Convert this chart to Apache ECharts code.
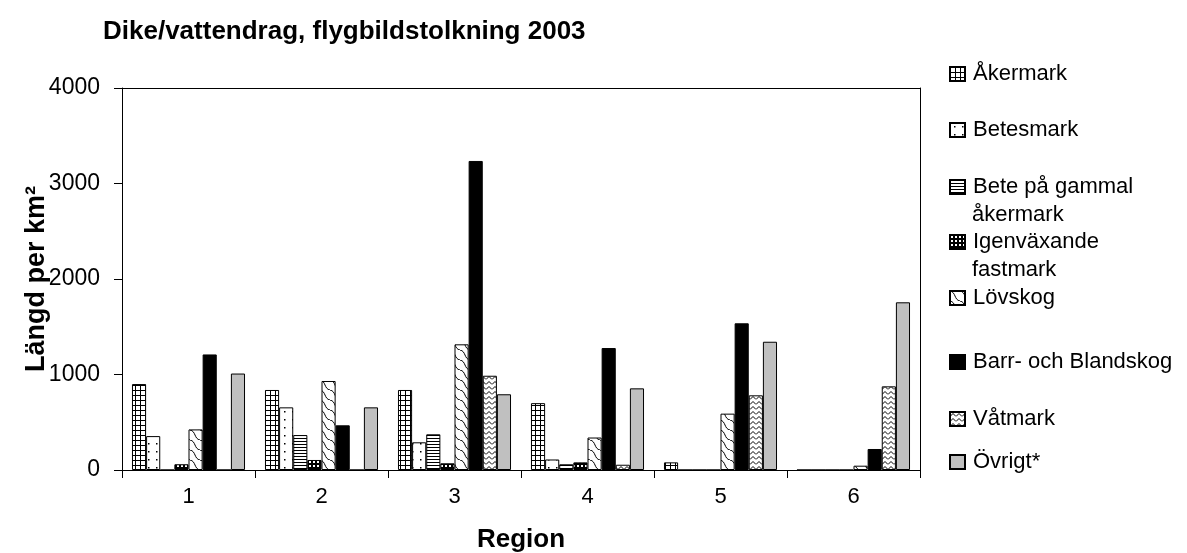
<!DOCTYPE html>
<html>
<head>
<meta charset="utf-8">
<script src="https://cdn.jsdelivr.net/npm/echarts@6/dist/echarts.min.js"></script>
<style>
  html, body { margin: 0; padding: 0; background: #fff; }
  #chart { width: 1187px; height: 553px; }
</style>
</head>
<body>
<div id="chart"></div>
<script>
// Regions on the x axis
const regions = ['1', '2', '3', '4', '5', '6'];

// Ditch / watercourse length per km² by land class
const akermark     = [900, 838, 838, 700, 80, 0];
const betesmark    = [355, 656, 290, 110, 0, 0];
const beteGammal   = [0, 366, 374, 60, 0, 0];
const igenvaxande  = [60, 105, 70, 80, 0, 0];
const lovskog      = [425, 932, 1316, 340, 590, 45];
const barrBland    = [1210, 468, 3236, 1277, 1536, 220];
const vatmark      = [0, 0, 987, 55, 782, 876];
const ovrigt       = [1010, 656, 793, 855, 1343, 1756];

const seriesNames = ['Åkermark', 'Betesmark', 'Bete på gammal', 'Igenväxande', 'Lövskog',
  'Barr- och Blandskog', 'Våtmark', 'Övrigt*'];
const secondLines = { 'Bete på gammal': 'åkermark', 'Igenväxande': 'fastmark' };
const yTicks = [0, 1000, 2000, 3000, 4000];
const yMax = yTicks[yTicks.length - 1];

const FONT = '"Liberation Sans", Arial, sans-serif';

// Small tiled canvases used as hatch fills
function tile(w, h, bg, draw) {
  const c = document.createElement('canvas');
  c.width = w; c.height = h;
  const g = c.getContext('2d');
  g.fillStyle = bg;
  g.fillRect(0, 0, w, h);
  g.fillStyle = '#000';
  g.strokeStyle = '#000';
  draw(g);
  return { image: c, repeat: 'repeat' };
}

const fills = [
  // grid
  tile(5, 5, '#fff', g => { g.fillRect(0, 0, 5, 1); g.fillRect(0, 0, 1, 5); }),
  // sparse dots
  tile(8, 8, '#fff', g => { g.fillRect(4, 3, 1.5, 1.5); }),
  // horizontal lines
  tile(3, 3, '#fff', g => { g.fillRect(0, 0, 3, 1); }),
  // dark checker
  tile(4, 4, '#000', g => { g.fillStyle = '#fff'; g.fillRect(1, 1, 2, 2); }),
  // diagonal waves
  tile(10, 10, '#fff', g => {
    g.lineWidth = 1;
    g.beginPath();
    g.moveTo(0, 0);
    g.bezierCurveTo(6, 1, 4, 9, 10, 10);
    g.stroke();
  }),
  '#000',
  // small chevrons
  tile(6, 5, '#fff', g => {
    g.lineWidth = 1;
    g.beginPath();
    g.moveTo(0, 4.5);
    g.lineTo(3, 1.5);
    g.lineTo(6, 4.5);
    g.stroke();
  }),
  '#C0C0C0'
];

const dataSets = [akermark, betesmark, beteGammal, igenvaxande, lovskog, barrBland, vatmark, ovrigt];

const series = seriesNames.map((name, i) => ({
  name: name,
  type: 'bar',
  xAxisIndex: 0,
  yAxisIndex: 0,
  data: dataSets[i],
  barGap: '0%',
  barCategoryGap: '15%',
  itemStyle: { color: fills[i], borderColor: '#000', borderWidth: 1 },
  emphasis: { disabled: true },
  silent: true
}));

// Legend rows: centre y of each entry's first line
const legendCentres = [73, 129, 186, 241, 297, 361, 418, 461];
const legends = seriesNames.map((name, i) => ({
  data: [name],
  left: 949,
  top: legendCentres[i] - 11,
  padding: 0,
  orient: 'vertical',
  itemWidth: 15,
  itemHeight: 14,
  selectedMode: false,
  icon: 'rect',
  textStyle: { fontFamily: FONT, fontSize: 22, color: '#000', lineHeight: 24, padding: [0, 0, 0, 3] }
}));

const graphics = [];
seriesNames.forEach((name, i) => {
  if (secondLines[name]) {
    graphics.push({
      type: 'text',
      id: 'line2-' + i,
      left: 972,
      top: legendCentres[i] + 18,
      style: { text: secondLines[name], font: '22px ' + FONT, fill: '#000' }
    });
  }
});

const frameLine = { show: true, onZero: false, lineStyle: { color: '#000', width: 1 } };

const chart = echarts.init(document.getElementById('chart'), null, { renderer: 'canvas' });
chart.setOption({
  animation: false,
  backgroundColor: '#fff',
  title: {
    text: 'Dike/vattendrag, flygbildstolkning 2003',
    left: 103,
    top: 19,
    padding: 0,
    textStyle: { fontFamily: FONT, fontSize: 26, fontWeight: 'bold', color: '#000' }
  },
  legend: legends,
  graphic: graphics,
  grid: {
    left: 122, right: 267, top: 88, bottom: 83,
    containLabel: false,
    outerBoundsMode: 'none',
    show: false
  },
  xAxis: {
    type: 'category',
    data: regions,
    name: 'Region',
    nameLocation: 'middle',
    nameGap: 57,
    nameMoveOverlap: false,
    nameTextStyle: { fontFamily: FONT, fontSize: 26, fontWeight: 'bold', color: '#000' },
    axisLine: frameLine,
    axisTick: { show: true, length: 8, lineStyle: { color: '#000' } },
    axisLabel: { fontFamily: FONT, fontSize: 22, color: '#000', margin: 16 },
    splitLine: { show: false }
  },
  yAxis: [{
    type: 'value',
    min: yTicks[0],
    max: yMax,
    interval: 1000,
    name: 'Längd per km²',
    nameLocation: 'middle',
    nameRotate: 90,
    nameGap: 72,
    nameMoveOverlap: false,
    nameTextStyle: { fontFamily: FONT, fontSize: 27, fontWeight: 'bold', color: '#000' },
    axisLine: frameLine,
    axisTick: { show: true, length: 8, lineStyle: { color: '#000' } },
    axisLabel: {
      fontFamily: FONT, fontSize: 23, color: '#000', margin: 22,
      formatter: v => String(v)
    },
    splitLine: { show: false }
  }, {
    // right edge of the plot frame
    type: 'value',
    min: yTicks[0],
    max: yMax,
    interval: 1000,
    position: 'right',
    axisLine: frameLine,
    axisTick: { show: false },
    axisLabel: { show: false },
    splitLine: { show: false }
  }],
  series: series
});

// Top edge of the plot frame, spanning the category axis from its first to its last band
const firstC = chart.convertToPixel({ xAxisIndex: 0 }, regions[0]);
const lastC = chart.convertToPixel({ xAxisIndex: 0 }, regions[regions.length - 1]);
const band = (lastC - firstC) / (regions.length - 1);
const topY = Math.round(chart.convertToPixel({ yAxisIndex: 0 }, yMax)) + 0.5;
chart.setOption({
  graphic: graphics.concat([{
    type: 'line',
    id: 'frame-top',
    silent: true,
    shape: { x1: firstC - band / 2, y1: topY, x2: lastC + band / 2, y2: topY },
    style: { stroke: '#000', lineWidth: 1 }
  }])
});
</script>
</body>
</html>
